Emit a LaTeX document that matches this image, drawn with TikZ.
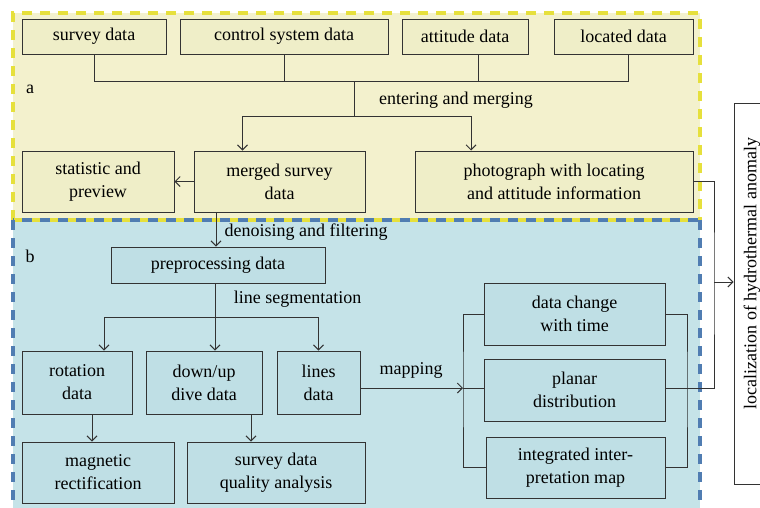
\documentclass[tikz,border=0pt]{standalone}
\usepackage{fontspec}
\setmainfont{Liberation Serif}
\usetikzlibrary{arrows.meta}
\definecolor{ylw}{RGB}{243,241,205}
\definecolor{ylwbox}{RGB}{239,238,200}
\definecolor{ylwdash}{RGB}{230,224,60}
\definecolor{blu}{RGB}{197,227,232}
\definecolor{blubox}{RGB}{191,223,229}
\definecolor{bludash}{RGB}{80,125,178}
\tikzstyle{yb}=[shape=rectangle,
                draw=black!80,
                fill=ylwbox,
                inner sep=0pt,
                align=center]
\tikzstyle{bb}=[yb, fill=blubox]
\tikzstyle{ydash}=[draw=ylwdash, line width=3.4pt, dash pattern=on 10pt off 8pt]
\tikzstyle{bdash}=[draw=bludash, line width=3.4pt, dash pattern=on 10pt off 8pt]

\begin{document}
\begin{tikzpicture}[x=1pt,y=-1pt,>={Straight Barb[length=5pt,width=10pt]},
                    line width=1pt,draw=black!80,
                    font=\fontsize{18}{23}\selectfont]

\useasboundingbox (0,0) rectangle (760,507);
\clip (0,0) rectangle (760,507);

% regions a and b
\fill[ylw] (13,13) rectangle (700,220);
\fill[blu] (13,220) rectangle (700,510);
\draw[ydash] (13,220) -- (13,13) -- (700,13) -- (700,220);
\draw[ydash] (13,220) -- (700,220);
\draw[bdash, dash phase=9pt] (13,220) -- (700,220);
\draw[bdash] (13,220) -- (13,510);
\draw[bdash] (700,220) -- (700,510);
\node (la) at (30,89)  {a};
\node (lb) at (30,256) {b};

% input data
\node[yb, minimum width=144, minimum height=35] (survey) at (94,36.5)   {survey data};
\node[yb, minimum width=208, minimum height=35] (ctrl)   at (284,36.5)  {control system data};
\node[yb, minimum width=126, minimum height=35] (att)    at (465,36.5)  {attitude data};
\node[yb, minimum width=139, minimum height=35] (loc)    at (623.5,36.5) {located data};

% merged data
\node[yb, minimum width=152, minimum height=61] (stat)   at (98,181.5)  {statistic and\\preview};
\node[yb, minimum width=171, minimum height=61] (merged) at (279.5,181.5) {merged survey\\data};
\node[yb, minimum width=278, minimum height=61] (photo)  at (554,181.5)  {photograph with locating\\and attitude information};

% processing
\node[bb, minimum width=214, minimum height=36] (prep)   at (218,265)   {preprocessing data};
\node[bb, minimum width=110, minimum height=63] (rot)    at (77,382.5)  {rotation\\data};
\node[bb, minimum width=116, minimum height=63] (dive)   at (204,382.5) {down/up\\dive data};
\node[bb, minimum width=83,  minimum height=63] (lines)  at (318.5,382.5) {lines\\data};
\node[bb, minimum width=152, minimum height=61] (magn)   at (98,472.5)  {magnetic\\rectification};
\node[bb, minimum width=178, minimum height=61] (qual)   at (276,472.5) {survey data\\quality analysis};
\node[bb, minimum width=181, minimum height=62] (change) at (574.5,314) {data change\\with time};
\node[bb, minimum width=181, minimum height=62] (planar) at (574.5,390) {planar\\distribution};
\node[bb, minimum width=179, minimum height=61] (integ)  at (575.5,467.5) {integrated inter-\\pretation map};

% result
\node[draw=black!80, fill=white, rotate=90, inner sep=0pt,
      minimum width=381, minimum height=36] (local) at (752,293.5)
      {\hspace*{40pt}localization of hydrothermal anomaly};

% entering and merging
\coordinate (tm) at (354,81);
\coordinate (mm) at (354,116);
\draw (survey.south) |- (tm);
\draw (ctrl.south) -- (ctrl.south |- tm);
\draw ([xshift=13]att.south) -- ([xshift=13]att.south |- tm);
\draw ([xshift=5]loc.south) |- (tm);
\draw (tm) -- (mm);
\draw[->] (mm) -| ([xshift=-37]merged.north);
\draw[->] (mm) -| ([xshift=-83]photo.north);
\node (enter) at (456,100) {entering and merging};
\draw[->] (merged.west) -- (stat.east);

% denoising and line segmentation
\draw[->] ([xshift=-63.5]merged.south) -- ([xshift=-63.5]merged.south |- prep.north);
\node (denoise) at (306,232) {denoising and filtering};
\coordinate (ls) at (215,317);
\draw (prep.south -| ls) -- (ls);
\draw[->] (ls) -| ([xshift=27]rot.north);
\draw[->] (ls) -- (ls |- dive.north);
\draw[->] (ls) -| (lines.north);
\node (lineseg) at (297.5,299) {line segmentation};
\draw[->] ([xshift=15]rot.south) -- ([xshift=15]rot.south |- magn.north);
\draw[->] ([xshift=47]dive.south) -- ([xshift=47]dive.south |- qual.north);

% mapping
\coordinate (ml) at (463,388);
\coordinate (mr) at (687,388);
\draw[->] (lines.east |- ml) -- (ml);
\node (mapping) at (411,370) {mapping};
\draw (change.west) -| (ml) |- (integ.west);
\draw (ml) -- (planar.west |- ml);
\draw (change.east) -| (mr) |- (integ.east);

% to localization
\coordinate (lr) at (714,282);
\draw (planar.east |- ml) -| (lr) |- (photo.east);
\draw[->] (lr) -- (lr -| local.north);

\end{tikzpicture}
\end{document}
